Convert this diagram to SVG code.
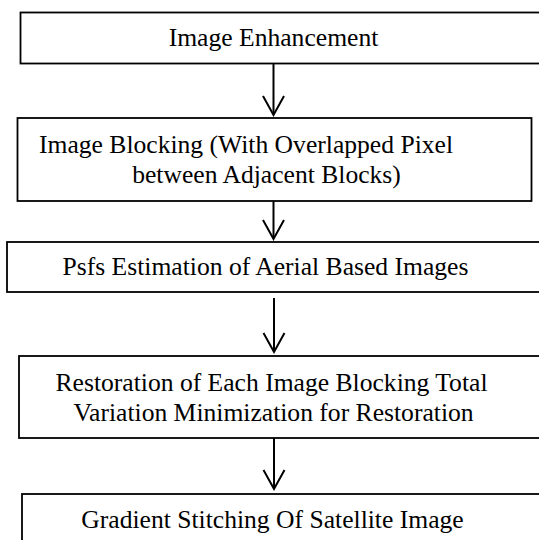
<svg xmlns="http://www.w3.org/2000/svg" width="539" height="540" viewBox="0 0 539 540">
  <style>
    .box { fill: #fff; stroke: #000; stroke-width: 1.8; }
    .lbl { font-family: "Liberation Serif", "Times New Roman", serif; font-size: 25.6px; fill: #000; text-anchor: middle; }
    .edge { fill: none; stroke: #000; stroke-width: 2; stroke-linecap: butt; }
    .head { fill: none; stroke: #000; stroke-width: 2; stroke-linejoin: miter; }
  </style>
  <rect width="539" height="540" fill="#fff"/>

  <!-- connectors -->
  <g id="connectors">
    <line class="edge" x1="273.5" y1="60" x2="273.5" y2="114"/>
    <polyline class="head" points="263,96 273.5,115 284,96"/>
    <line class="edge" x1="273.5" y1="200" x2="273.5" y2="238"/>
    <polyline class="head" points="263,220 273.5,239 284,220"/>
    <line class="edge" x1="274" y1="298" x2="274" y2="351"/>
    <polyline class="head" points="263.5,333 274,352 284.5,333"/>
    <line class="edge" x1="274" y1="438" x2="274" y2="488"/>
    <polyline class="head" points="263.5,470 274,489 284.5,470"/>
  </g>

  <g id="node-enhancement">
    <rect class="box" x="20.5" y="12.5" width="524" height="51"/>
    <text class="lbl" x="273.5" y="46">Image Enhancement</text>
  </g>

  <g id="node-blocking">
    <rect class="box" x="17.5" y="118" width="514" height="83"/>
    <text class="lbl" x="246" y="153">Image Blocking (With Overlapped Pixel</text>
    <text class="lbl" x="266.5" y="183">between Adjacent Blocks)</text>
  </g>

  <g id="node-psf">
    <rect class="box" x="7" y="242" width="540" height="50"/>
    <text class="lbl" x="265.5" y="275">Psfs Estimation of Aerial Based Images</text>
  </g>

  <g id="node-restoration">
    <rect class="box" x="19" y="356" width="528" height="82"/>
    <text class="lbl" x="271.5" y="390.5">Restoration of Each Image Blocking Total</text>
    <text class="lbl" x="273.5" y="420.5">Variation Minimization for Restoration</text>
  </g>

  <g id="node-stitching">
    <rect class="box" x="22" y="494" width="525" height="60"/>
    <text class="lbl" x="272.5" y="528">Gradient Stitching Of Satellite Image</text>
  </g>
</svg>
